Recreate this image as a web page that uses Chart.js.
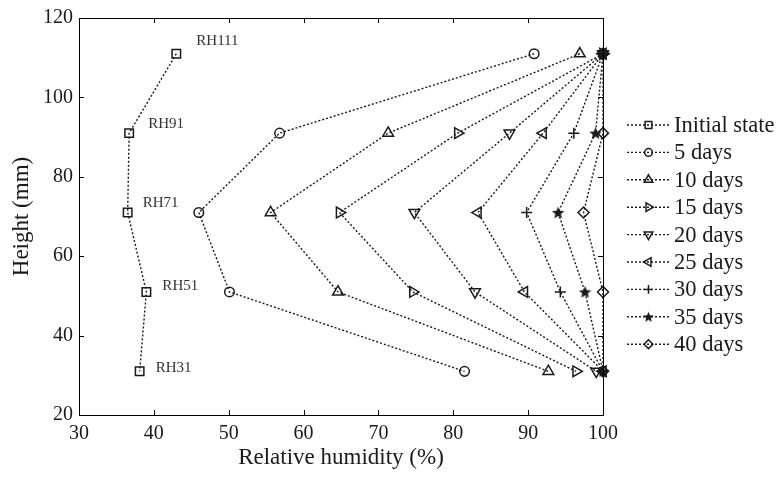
<!DOCTYPE html>
<html>
<head>
<meta charset="utf-8">
<script src="https://cdn.jsdelivr.net/npm/chart.js"></script>
<style>
  html, body { margin: 0; padding: 0; background: #fff; }
  #wrap { width: 780px; height: 477px; }
</style>
</head>
<body>
<div id="wrap"><canvas id="myChart" width="780" height="477"></canvas></div>
<script>
    // Sensor heights (mm), top to bottom
    const heights = [111, 91, 71, 51, 31];
    const sensorNames = ['RH111', 'RH91', 'RH71', 'RH51', 'RH31'];

    // Relative humidity (%) at each height
    const initialState = [43.0, 36.7, 36.5, 39.0, 38.1];
    const days5  = [90.8, 56.8, 46.0, 50.1, 81.5];
    const days10 = [96.9, 71.3, 55.6, 64.6, 92.7];
    const days15 = [100, 80.6, 64.8, 74.6, 96.4];
    const days20 = [100, 87.5, 74.8, 82.9, 99.1];
    const days25 = [100, 92.0, 83.3, 89.5, 100];
    const days30 = [100, 96.1, 89.8, 94.3, 100];
    const days35 = [100, 99.0, 94.0, 97.6, 100];
    const days40 = [100, 100, 97.4, 100, 100];

    const seriesLabels = ['Initial state', '5 days', '10 days', '15 days', '20 days',
                          '25 days', '30 days', '35 days', '40 days'];
    const seriesValues = [initialState, days5, days10, days15, days20,
                          days25, days30, days35, days40];

    const xTicks = [30, 40, 50, 60, 70, 80, 90, 100];
    const yTicks = [20, 40, 60, 80, 100, 120];

    const FONT = '"Liberation Serif", "Times New Roman", serif';
    const INK = '#1a1a1a';

    // filled five-point star marker
    function makeStar(size) {
        const c = document.createElement('canvas');
        c.width = size; c.height = size;
        const g = c.getContext('2d');
        const cx = size / 2, cy = size / 2 + 0.5, R = size / 2, r = R * 0.45;
        g.beginPath();
        for (let i = 0; i < 10; i++) {
            const a = -Math.PI / 2 + i * Math.PI / 5;
            const rr = i % 2 === 0 ? R : r;
            g.lineTo(cx + rr * Math.cos(a), cy + rr * Math.sin(a));
        }
        g.closePath();
        g.fillStyle = INK;
        g.fill();
        return c;
    }
    const starImg = makeStar(13);
    const starSmall = makeStar(11);

    // marker per series: style, rotation, radius
    const markers = [
        { style: 'rect', rot: 0, r: 6 },
        { style: 'circle', rot: 0, r: 4.8 },
        { style: 'triangle', rot: 0, r: 6.2 },
        { style: 'triangle', rot: 90, r: 6.2 },
        { style: 'triangle', rot: 180, r: 6.2 },
        { style: 'triangle', rot: 270, r: 6.2 },
        { style: 'cross', rot: 0, r: 5.5 },
        { style: starImg, rot: 0, r: 6.5 },
        { style: 'rectRot', rot: 0, r: 5.5 }
    ];

    const datasets = seriesLabels.map((label, i) => ({
        label: label,
        data: seriesValues[i].map((v, k) => ({ x: v, y: heights[k] })),
        showLine: true,
        borderColor: INK,
        backgroundColor: 'rgba(0,0,0,0)',
        borderWidth: 1.4,
        borderDash: [2, 2],
        pointStyle: markers[i].style,
        pointRotation: markers[i].rot,
        pointRadius: markers[i].r,
        pointBorderWidth: 1.5,
        pointBorderColor: INK,
        pointBackgroundColor: 'rgba(0,0,0,0)',
        clip: false
    }));

    // box frame with inward ticks
    const frame = {
        id: 'frame',
        afterDraw(chart) {
            const { ctx, chartArea: a, scales } = chart;
            ctx.save();
            ctx.strokeStyle = '#000';
            ctx.lineWidth = 1;
            ctx.setLineDash([]);
            ctx.strokeRect(a.left + 0.5, a.top + 0.5, a.right - a.left, a.bottom - a.top);
            const len = 5;
            ctx.beginPath();
            xTicks.forEach(t => {
                const px = Math.round(scales.x.getPixelForValue(t)) + 0.5;
                ctx.moveTo(px, a.bottom); ctx.lineTo(px, a.bottom - len);
                ctx.moveTo(px, a.top); ctx.lineTo(px, a.top + len);
            });
            yTicks.forEach(t => {
                const py = Math.round(scales.y.getPixelForValue(t)) + 0.5;
                ctx.moveTo(a.left, py); ctx.lineTo(a.left + len, py);
                ctx.moveTo(a.right, py); ctx.lineTo(a.right - len, py);
            });
            ctx.stroke();
            ctx.restore();
        }
    };

    // sensor names next to the initial-state points
    const labelShift = [[20, -13], [19, -9], [15, -9], [16, -6], [16, -3]];
    const sensorLabels = {
        id: 'sensorLabels',
        afterDatasetsDraw(chart) {
            const { ctx, scales } = chart;
            ctx.save();
            ctx.font = '15px ' + FONT;
            ctx.fillStyle = '#333';
            ctx.textBaseline = 'middle';
            ctx.textAlign = 'left';
            sensorNames.forEach((name, k) => {
                const px = scales.x.getPixelForValue(initialState[k]);
                const py = scales.y.getPixelForValue(heights[k]);
                ctx.fillText(name, px + labelShift[k][0], py + labelShift[k][1]);
            });
            ctx.restore();
        }
    };

    // legend with line + marker samples, right of the plot
    const sideLegend = {
        id: 'sideLegend',
        afterDraw(chart) {
            const { ctx, chartArea: a } = chart;
            const x0 = a.right + 24, x1 = a.right + 67, top = 125, step = 27.4;
            ctx.save();
            chart.data.datasets.forEach((ds, i) => {
                const y = top + i * step;
                ctx.strokeStyle = INK;
                ctx.lineWidth = 1.4;
                ctx.setLineDash([2, 2]);
                ctx.beginPath();
                ctx.moveTo(x0, y); ctx.lineTo(x1, y);
                ctx.stroke();
                ctx.setLineDash([]);
                ctx.lineWidth = 1.5;
                ctx.fillStyle = 'rgba(0,0,0,0)';
                Chart.helpers.drawPoint(ctx, {
                    pointStyle: ds.pointStyle === starImg ? starSmall : ds.pointStyle,
                    rotation: ds.pointRotation,
                    radius: ds.pointRadius * 0.8,
                    borderWidth: 1.5
                }, (x0 + x1) / 2, y);
                ctx.fillStyle = INK;
                ctx.font = '22.5px ' + FONT;
                ctx.textBaseline = 'middle';
                ctx.textAlign = 'left';
                ctx.fillText(ds.label, x1 + 4, y + 1);
            });
            ctx.restore();
        }
    };

    const ctx = document.getElementById('myChart').getContext('2d');
    const myChart = new Chart(ctx, {
        type: 'scatter',
        data: { datasets: datasets },
        plugins: [frame, sensorLabels, sideLegend],
        options: {
            responsive: false,
            animation: false,
            layout: { padding: { top: 5, right: 177, left: 0, bottom: 0 } },
            plugins: { legend: { display: false }, tooltip: { enabled: false } },
            scales: {
                x: {
                    type: 'linear',
                    min: 30, max: 100,
                    afterBuildTicks: s => { s.ticks = xTicks.map(v => ({ value: v })); },
                    afterFit: s => { s.height = 62; },
                    grid: { display: false, drawTicks: false },
                    border: { display: false },
                    ticks: { color: INK, font: { family: FONT, size: 20 }, padding: 7 },
                    title: { display: true, text: 'Relative humidity (%)', color: INK,
                             font: { family: FONT, size: 23 }, padding: { top: 0, bottom: 5 } }
                },
                y: {
                    type: 'linear',
                    min: 20, max: 120,
                    afterBuildTicks: s => { s.ticks = yTicks.map(v => ({ value: v })); },
                    afterFit: s => { s.width = 79; },
                    grid: { display: false, drawTicks: false },
                    border: { display: false },
                    ticks: { color: INK, font: { family: FONT, size: 20 }, padding: 6 },
                    title: { display: true, text: 'Height (mm)', color: INK,
                             font: { family: FONT, size: 23 }, padding: { top: 8, bottom: 8 } }
                }
            }
        }
    });
</script>
</body>
</html>
